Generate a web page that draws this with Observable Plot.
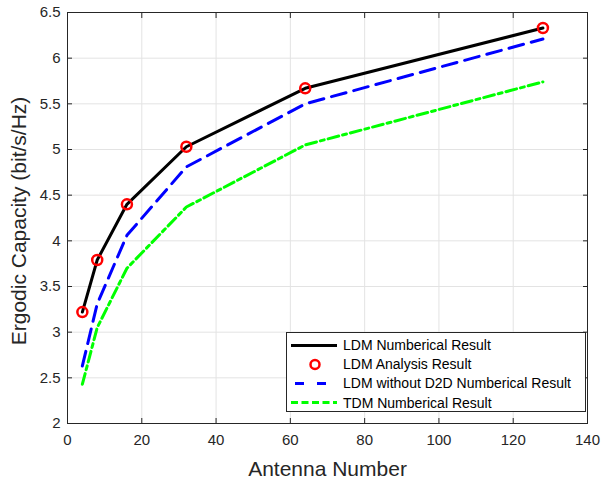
<!DOCTYPE html>
<html>
<head>
<meta charset="utf-8">
<script src="https://cdn.jsdelivr.net/npm/d3@7"></script>
<script src="https://cdn.jsdelivr.net/npm/@observablehq/plot@0.6"></script>
<style>
  html, body { margin: 0; padding: 0; background: #fff; }
  #wrap { position: relative; width: 602px; height: 479px; font-family: "Liberation Sans", Arial, sans-serif; }
  #legend { position: absolute; left: 286px; top: 332px; width: 300px; height: 80px; border: 1px solid #262626; background: #fff; box-sizing: border-box; font-size: 14px; color: #000; }
  .row { position: absolute; left: 0; height: 19px; display: flex; align-items: center; }
  .row svg { width: 52px; height: 19px; flex: none; }
  .row span { margin-left: 4px; white-space: nowrap; }
</style>
</head>
<body>
<div id="wrap"></div>
<script>
const antennas = [4, 8, 16, 32, 64, 128];
const ldmNumerical = [3.22, 3.79, 4.40, 5.03, 5.67, 6.33];
const ldmAnalysis = [3.22, 3.79, 4.40, 5.03, 5.67, 6.33];
const ldmNoD2D = [2.63, 3.31, 4.06, 4.81, 5.50, 6.21];
const tdmNumerical = [2.43, 3.05, 3.70, 4.37, 5.05, 5.74];
const xTicks = [0, 20, 40, 60, 80, 100, 120, 140];
const yTicks = [2, 2.5, 3, 3.5, 4, 4.5, 5, 5.5, 6, 6.5];
const xLabel = "Antenna Number";
const yLabel = "Ergodic Capacity (bit/s/Hz)";
const seriesNames = ["LDM Numberical Result", "LDM Analysis Result", "LDM without D2D Numberical Result", "TDM Numberical Result"];

const toRows = (ys) => antennas.map((x, i) => ({x, y: ys[i]}));
const axisColor = "#262626";

const plot = Plot.plot({
  width: 602,
  height: 479,
  marginLeft: 67,
  marginRight: 15,
  marginTop: 12,
  marginBottom: 56,
  style: {fontFamily: "Liberation Sans, Arial, sans-serif", fontSize: "15px", color: axisColor, background: "#fff"},
  x: {domain: [0, 140], ticks: xTicks},
  y: {domain: [2, 6.5], ticks: yTicks},
  marks: [
    Plot.gridX(xTicks, {stroke: "#e3e3e3", strokeOpacity: 1}),
    Plot.gridY(yTicks, {stroke: "#e3e3e3", strokeOpacity: 1}),
    Plot.axisX(xTicks, {anchor: "bottom", tickSize: 0, tickPadding: 11, fontSize: 15, fill: axisColor, label: null, tickFormat: d => String(d)}),
    Plot.axisX(xTicks, {anchor: "bottom", tickSize: -5, text: null, label: null, stroke: axisColor}),
    Plot.axisX(xTicks, {anchor: "top", tickSize: -5, text: null, label: null, stroke: axisColor}),
    Plot.axisY(yTicks, {anchor: "left", tickSize: 0, tickPadding: 7, fontSize: 15, fill: axisColor, label: null, tickFormat: d => String(d)}),
    Plot.axisY(yTicks, {anchor: "left", tickSize: -5, text: null, label: null, stroke: axisColor}),
    Plot.axisY(yTicks, {anchor: "right", tickSize: -5, text: null, label: null, stroke: axisColor}),
    Plot.text([xLabel], {frameAnchor: "bottom", dy: 52, lineAnchor: "bottom", textAnchor: "middle", fontSize: 21, fill: axisColor, text: d => d}),
    Plot.text([yLabel], {frameAnchor: "left", dx: -42, dy: 3, rotate: -90, lineAnchor: "bottom", textAnchor: "middle", fontSize: 21, fill: axisColor, text: d => d}),
    Plot.frame({stroke: axisColor}),
    Plot.line(toRows(tdmNumerical), {x: "x", y: "y", stroke: "#00ff00", strokeWidth: 3, strokeDasharray: "11,4,4,4"}),
    Plot.line(toRows(ldmNoD2D), {x: "x", y: "y", stroke: "#0000ff", strokeWidth: 3, strokeDasharray: "15,8"}),
    Plot.line(toRows(ldmNumerical), {x: "x", y: "y", stroke: "#000000", strokeWidth: 3}),
    Plot.dot(toRows(ldmAnalysis), {x: "x", y: "y", r: 5, stroke: "#ff0000", strokeWidth: 2.5, fill: "none"})
  ]
});

const wrap = document.getElementById("wrap");
wrap.appendChild(plot);

const legend = document.createElement("div");
legend.id = "legend";
const samples = [
  '<line x1="4" x2="50" y1="9.5" y2="9.5" stroke="#000" stroke-width="3"/>',
  '<circle cx="28" cy="9.5" r="4.5" stroke="#f00" stroke-width="2.5" fill="none"/>',
  '<line x1="8" x2="50" y1="9.5" y2="9.5" stroke="#00f" stroke-width="3" stroke-dasharray="9,13"/>',
  '<line x1="4" x2="50" y1="9.5" y2="9.5" stroke="#0f0" stroke-width="3" stroke-dasharray="7,3.5"/>'
];
seriesNames.forEach((name, i) => {
  const row = document.createElement("div");
  row.className = "row";
  row.style.top = (2.5 + i * 19.2) + "px";
  row.innerHTML = `<svg viewBox="0 0 52 19">${samples[i]}</svg><span>${name}</span>`;
  legend.appendChild(row);
});
wrap.appendChild(legend);
</script>
</body>
</html>
